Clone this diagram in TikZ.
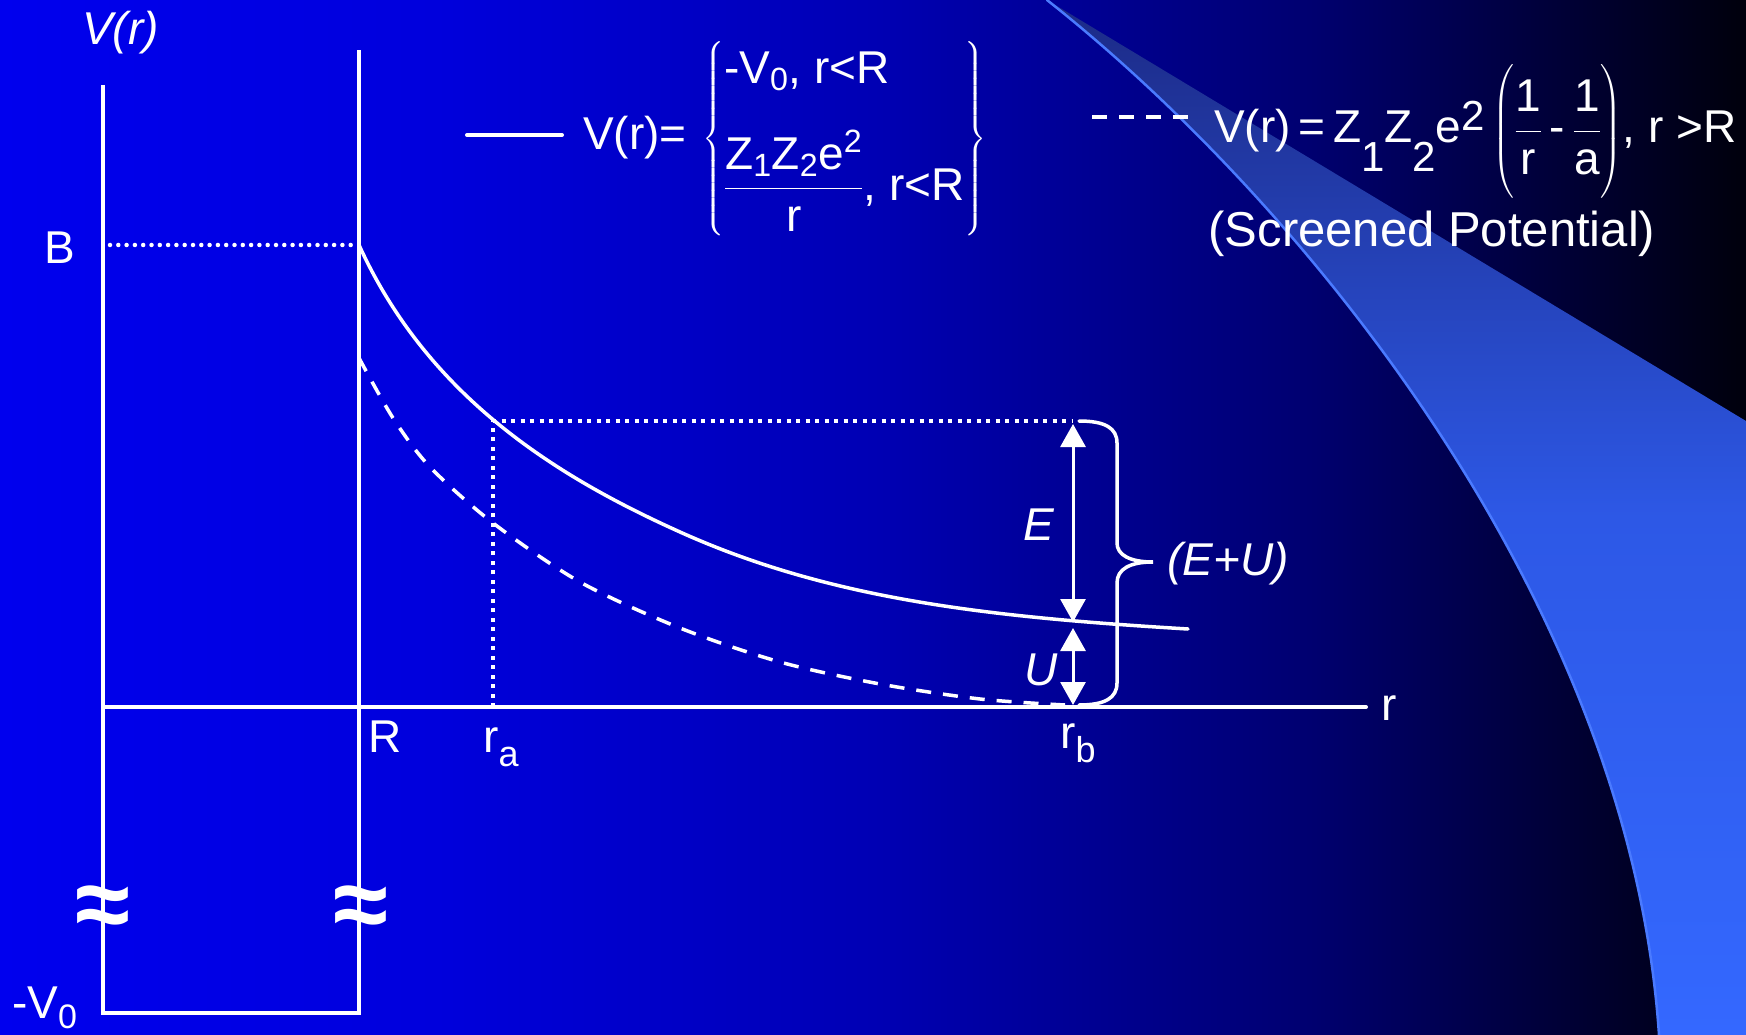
\RequirePackage{fix-cm}
\documentclass[tikz,border=0pt]{standalone}
\usepackage{amsmath}
\usepackage{fontspec}
\setmainfont{Liberation Sans}
\usepackage{tikz}
\usetikzlibrary{arrows.meta}
\definecolor{spblue}{HTML}{0000EE}
\definecolor{spbluetwo}{HTML}{0000DC}
\definecolor{spmid}{HTML}{0000B4}
\definecolor{spdeep}{HTML}{000070}
\definecolor{spdark}{HTML}{00000C}
\definecolor{spswtop}{HTML}{1C2A86}
\definecolor{spswmid}{HTML}{2D58E6}
\definecolor{spswbot}{HTML}{3468FF}
\definecolor{spedge}{HTML}{4A7AFF}
\pgfdeclarehorizontalshading{spbackdrop}{100bp}{color(0bp)=(spblue); color(25bp)=(spblue); color(37.5bp)=(spbluetwo); color(50bp)=(spmid); color(62.5bp)=(spdeep); color(75bp)=(spdark); color(100bp)=(spdark)}
\newcommand{\spsub}[3]{\raisebox{#1}{\fontsize{#2}{#2}\selectfont #3}}

\begin{document}
\begin{tikzpicture}[x=1pt, y=-1pt, line cap=round,
  potline/.style={white, line width=3.5pt},
  dotline/.style={white, line width=4pt, line cap=butt, dash pattern=on 4pt off 5.5pt},
  dashline/.style={white, line width=3.5pt, line cap=butt, dash pattern=on 15pt off 12pt},
  lbl/.style={text=white, inner sep=0pt, font=\fontsize{46}{55}\selectfont},
  ilbl/.style={lbl, font=\fontsize{46}{55}\selectfont\itshape},
  dimarrow/.style={white, line width=3pt, {Triangle[width=25pt,length=23pt]}-{Triangle[width=25pt,length=23pt]}}]
  \useasboundingbox (0,0) rectangle (1746,1035);
  % backdrop and swoosh
  \shade[shading=spbackdrop] (0,0) rectangle (1746,1035);
  \shade[top color=spswtop, bottom color=spswbot, middle color=spswmid] (1047,0) .. controls (1300,200) and (1630,600) .. (1659,1035) -- (1746,1035) -- (1746,421) -- cycle;
  \draw[spedge, line width=2.5pt] (1047,0) .. controls (1300,200) and (1630,600) .. (1659,1035);

  % well and axis
  \coordinate (ratop) at (493,421);
  \coordinate (rafoot) at (493,707);
  \coordinate (rbtop) at (1073,421);
  \coordinate (rbmid) at (1073,622);
  \coordinate (rbfoot) at (1073,707);
  \draw[potline, line width=4pt, line cap=butt, line join=miter] (103,85) -- (103,1013) -- (359,1013) -- (359,50);
  \draw[potline, line width=4pt] (103,707) -- (1366,707);
  \draw[white, line width=4.5pt, dash pattern=on 0pt off 8.3pt] (110,245) -- (355,245);
  \node[lbl, font=\fontsize{100}{100}\selectfont\bfseries, anchor=base] (breakL) at (103,938) {≈};
  \node[lbl, font=\fontsize{100}{100}\selectfont\bfseries, anchor=base] (breakR) at (361,938) {≈};

  % potentials
  \draw[potline] (359,245) .. controls (429,399) and (560,478) .. (680,532) .. controls (830,599.5) and (988,617) .. (1188,629);
  \draw[dashline] plot[smooth] coordinates {(359,358) (393,418) (430,467) (493,523) (580,582) (680,628) (780,662) (880,684) (980,699) (1065,705)};
  \draw[dotline] (rafoot) -- (ratop) -- (rbtop);

  % E, U and the brace
  \draw[dimarrow] ([yshift=-3pt]rbtop) -- (rbmid);
  \draw[dimarrow] ([yshift=-6pt]rbmid) -- ([yshift=2pt]rbfoot);
  \draw[potline] (1079,421) .. controls (1105,421) and (1117,428) .. (1117,443) -- (1117,543)
    .. controls (1117,555) and (1130,562) .. (1153,562)
    .. controls (1130,562) and (1117,569) .. (1117,583) -- (1117,683)
    .. controls (1117,698) and (1105,705) .. (1079,705);

  % labels
  \node[ilbl, anchor=base west] (vlabel) at (82,45) {V(r)};
  \node[lbl, anchor=base west] (blabel) at (44,263) {B};
  \node[lbl, anchor=base west] (vzero) at (12,1018) {-V\spsub{-10pt}{34}{0}};
  \node[lbl, anchor=base west] (Rlabel) at (368,752) {R};
  \node[lbl, anchor=base west] (ralabel) at (483,752) {r\spsub{-14pt}{36}{a}};
  \node[lbl, anchor=base west] (rblabel) at (1060,748) {r\spsub{-14pt}{36}{b}};
  \node[lbl, anchor=base west] (raxis) at (1381,720) {r};
  \node[ilbl, anchor=base west] (Elabel) at (1023,540) {E};
  \node[ilbl, anchor=base west] (Ulabel) at (1024,685) {U};
  \node[ilbl, anchor=base west] (EUlabel) at (1167,575) {(E+U)};

  % legend
  \draw[potline, line width=4pt] (467,135) -- (562,135);
  \node[lbl, anchor=base west] (solidformula) at (583,150) {$\text{V(r)=}\,\left\{\begin{array}{@{}l@{}}\text{-V}_{\text{0}}\text{, r<R}\\[30pt]\dfrac{\text{Z}_{\text{1}}\text{Z}_{\text{2}}\text{e}^{\text{2}}}{\text{r}}\text{, r<R}\end{array}\right\}$};
  \draw[dashline, line width=4pt] (1092,117) -- (1188,117);
  \node[lbl, anchor=base west] (screenformula) at (1214,143) {V(r)\,=\,Z\spsub{-29pt}{42}{1}Z\spsub{-29pt}{42}{2}e\spsub{12pt}{42}{2}\,$\Biggl(\dfrac{\text{1}}{\text{r}}\,\text{-}\,\dfrac{\text{1}}{\text{a}}\Biggr)$, r >R};
  \node[lbl, font=\fontsize{49}{58}\selectfont, anchor=base] (screenednote) at (1432,247) {(Screened Potential)};
\end{tikzpicture}
\end{document}
